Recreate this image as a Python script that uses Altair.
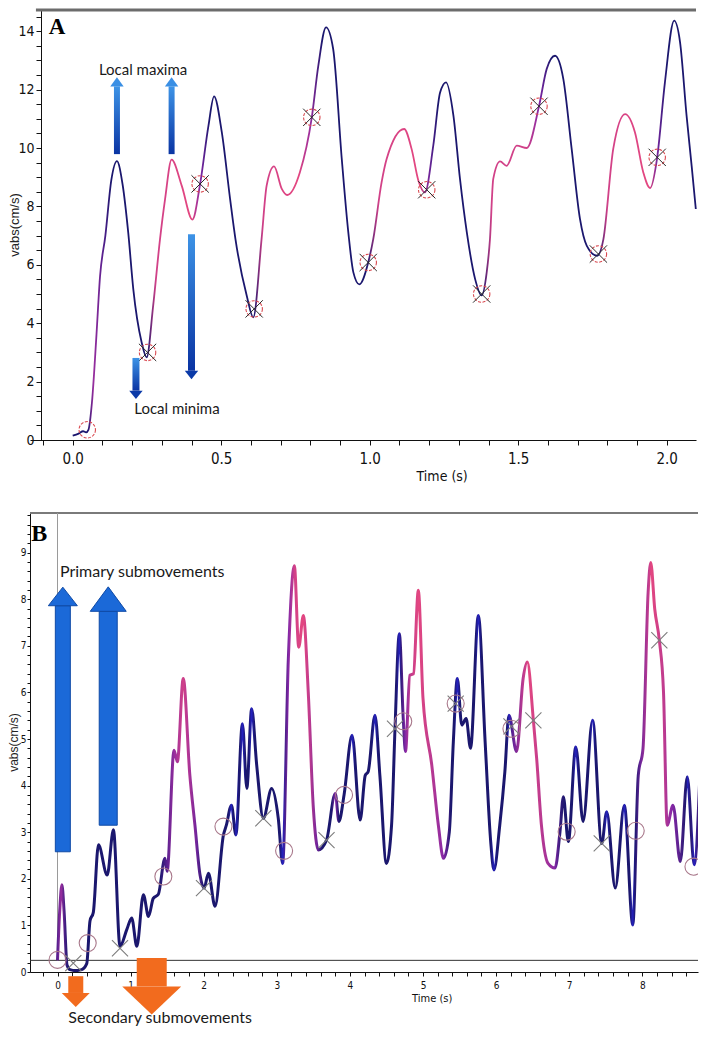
import altair as alt
import pandas as pd

# ------------------------------------------------------------------ Panel A data
a_time = [0.000, 0.020, 0.035, 0.045, 0.053, 0.065, 0.080, 0.092, 0.110, 0.130, 0.149, 0.168,
          0.187, 0.204, 0.232, 0.249, 0.271, 0.294, 0.311, 0.333, 0.367, 0.403, 0.429, 0.457,
          0.476, 0.502, 0.530, 0.548, 0.586, 0.608, 0.636, 0.653, 0.678, 0.704, 0.722, 0.765,
          0.805, 0.827, 0.853, 0.877, 0.906, 0.928, 0.945, 0.965, 0.995, 1.012, 1.040, 1.057,
          1.116, 1.141, 1.164, 1.186, 1.214, 1.237, 1.257, 1.282, 1.304, 1.327, 1.355, 1.377,
          1.394, 1.405, 1.416, 1.439, 1.461, 1.495, 1.529, 1.570, 1.596, 1.624, 1.652, 1.680,
          1.708, 1.731, 1.766, 1.787, 1.820, 1.860, 1.893, 1.921, 1.944, 1.968, 1.994, 2.025,
          2.045, 2.067, 2.084, 2.098]
a_vel = [0.15, 0.22, 0.30, 0.26, 0.35, 1.30, 3.60, 5.60, 7.00, 8.90, 9.55, 8.75,
         7.10, 5.17, 3.35, 2.83, 4.60, 6.88, 8.25, 9.60, 8.71, 7.55, 8.77, 10.76,
         11.77, 10.54, 8.25, 6.88, 4.94, 4.20, 6.88, 8.71, 9.37, 8.60, 8.39, 9.17,
         11.05, 12.82, 14.13, 13.39, 9.62, 7.11, 5.74, 5.33, 6.08, 6.88, 8.82, 9.62,
         10.65, 9.97, 8.88, 8.48, 10.08, 11.90, 12.25, 11.10, 8.94, 7.11, 5.51, 4.95,
         5.74, 6.88, 8.94, 9.54, 9.39, 10.08, 10.00, 11.43, 12.71, 13.16, 12.36, 9.97,
         7.57, 6.65, 6.31, 6.88, 9.97, 11.16, 10.54, 9.17, 8.63, 9.68, 12.25, 14.36,
         13.62, 11.10, 9.39, 7.91]
# colour key along time: 0 = navy, 0.5 = purple, 1 = pink
a_col_t = [0.00, 0.05, 0.07, 0.10, 0.13, 0.25, 0.28, 0.40, 0.43, 0.46, 0.61, 0.64, 0.76, 0.80,
           0.84, 0.99, 1.03, 1.17, 1.20, 1.23, 1.38, 1.41, 1.53, 1.57, 1.61, 1.77, 1.80, 1.94,
           1.97, 2.00, 2.098]
a_col_m = [0.0, 0.0, 0.6, 0.3, 0.0, 0.0, 0.9, 1.0, 0.5, 0.0, 0.0, 0.9, 1.0, 0.6,
           0.0, 0.0, 0.9, 1.0, 0.4, 0.0, 0.0, 0.9, 0.9, 0.5, 0.0, 0.0, 0.9, 1.0,
           0.4, 0.0, 0.0]
a_circle_t = [0.049, 0.252, 0.429, 0.611, 0.805, 0.995, 1.192, 1.377, 1.570, 1.770, 1.968]
a_circle_v = [0.35, 3.00, 8.77, 4.49, 11.05, 6.08, 8.57, 5.00, 11.43, 6.37, 9.68]
a_cross_t = [0.252, 0.429, 0.611, 0.805, 0.995, 1.192, 1.377, 1.570, 1.770, 1.968]
a_cross_v = [3.00, 8.77, 4.49, 11.05, 6.08, 8.57, 5.00, 11.43, 6.37, 9.68]
a_up_t = [0.149, 0.333]
a_up_from = [9.79, 9.79]
a_up_to = [12.11, 12.11]
a_dn_t = [0.213, 0.400]
a_dn_from = [2.81, 7.05]
a_dn_to = [1.69, 2.37]
a_labels = ["Local maxima", "Local minima"]
a_label_t = [0.237, 0.351]
a_label_v = [12.67, 1.06]
a_xticks = [round(-0.1 + 0.1 * i, 1) for i in range(22)]
a_yticks = [0.5 * i for i in range(30)]

# ------------------------------------------------------------------ Panel B data
b_time = [0.00, 0.03, 0.06, 0.09, 0.13, 0.17, 0.25, 0.33, 0.40, 0.445, 0.49, 0.56, 0.68, 0.765,
          0.855, 0.95, 1.015, 1.085, 1.175, 1.245, 1.31, 1.38, 1.47, 1.50, 1.594, 1.64, 1.72,
          1.81, 1.88, 1.95, 2.005, 2.065, 2.155, 2.27, 2.31, 2.38, 2.44, 2.53, 2.59, 2.656,
          2.725, 2.816, 2.93, 3.02, 3.08, 3.158, 3.24, 3.30, 3.363, 3.43, 3.50, 3.568, 3.68,
          3.80, 3.85, 3.92, 4.03, 4.14, 4.21, 4.25, 4.343, 4.41, 4.50, 4.57, 4.617, 4.676,
          4.73, 4.76, 4.82, 4.87, 4.936, 5.00, 5.12, 5.21, 5.28, 5.36, 5.415, 5.47, 5.53,
          5.59, 5.65, 5.757, 5.85, 5.926, 5.97, 6.05, 6.12, 6.176, 6.28, 6.37, 6.427, 6.51,
          6.555, 6.62, 6.71, 6.806, 6.874, 6.92, 6.988, 7.09, 7.19, 7.32, 7.445, 7.513, 7.63,
          7.754, 7.87, 7.945, 8.01, 8.08, 8.115, 8.17, 8.233, 8.29, 8.34, 8.42, 8.52, 8.615,
          8.71, 8.79]
b_vel = [0.25, 1.30, 1.87, 1.30, 0.15, 0.05, 0.03, 0.05, 0.18, 1.10, 1.28, 2.73, 2.08, 3.05,
         0.55, 0.92, 1.16, 0.55, 1.66, 1.19, 1.58, 1.67, 2.44, 2.16, 4.76, 4.51, 6.30,
         4.23, 3.15, 2.08, 1.80, 2.12, 1.41, 2.94, 3.15, 3.58, 2.94, 5.33, 3.94, 5.65,
         4.44, 3.30, 3.94, 3.30, 2.33, 6.72, 8.72, 6.97, 7.65, 6.01, 3.51, 2.62, 2.83,
         3.83, 3.23, 3.80, 5.08, 3.26, 4.22, 4.30, 5.51, 4.22, 2.33, 3.15, 5.22, 7.26,
         5.44, 4.73, 6.37, 6.40, 8.19, 5.87, 4.44, 3.15, 2.44, 3.01, 4.94, 6.30, 5.30,
         5.44, 4.80, 7.65, 4.94, 2.80, 2.19, 3.15, 4.30, 5.51, 4.73, 6.30, 6.65, 5.40,
         4.58, 3.15, 2.33, 2.23, 3.01, 3.76, 2.80, 4.83, 3.23, 5.40, 2.76, 3.44, 1.80,
         3.58, 1.01, 4.22, 4.80, 8.15, 8.79, 7.79, 7.12, 6.01, 3.15, 3.58, 2.37, 4.19,
         2.30, 4.30]
b_col_t = [0.00, 0.05, 0.10, 0.15, 1.40, 1.50, 1.60, 1.72, 1.80, 1.90, 2.00, 3.08, 3.16, 3.24,
           3.36, 3.45, 3.55, 3.62, 3.75, 3.80, 3.85, 4.62, 4.70, 4.76, 4.82, 4.94, 5.10, 5.28,
           5.38, 6.15, 6.25, 6.37, 6.45, 6.60, 6.80, 6.88, 6.95, 7.90, 7.98, 8.08, 8.12, 8.30,
           8.40, 8.50, 8.60, 8.79]
b_col_m = [0.3, 0.6, 0.2, 0.0, 0.0, 0.3, 0.6, 0.9, 0.7, 0.4, 0.0, 0.0, 0.5, 0.9,
           1.0, 0.8, 0.4, 0.0, 0.0, 0.5, 0.0, 0.0, 0.1, 0.5, 0.8, 1.0, 0.8, 0.5,
           0.0, 0.0, 0.4, 0.8, 1.0, 0.8, 0.5, 0.1, 0.0, 0.0, 0.4, 0.8, 1.0, 0.8,
           0.5, 0.3, 0.0, 0.2]
b_blue_t = [2.38, 2.44, 2.53, 2.656, 3.08, 4.03, 4.343, 4.676, 5.47, 5.757, 5.97, 6.176,
            7.09, 7.32, 7.513, 7.754, 7.87, 8.615, 8.71]
b_circle_t = [0.00, 0.413, 1.448, 2.27, 3.10, 3.92, 4.73, 5.447, 6.21, 6.965, 7.91, 8.70]
b_circle_v = [0.26, 0.62, 2.05, 3.12, 2.60, 3.80, 5.38, 5.76, 5.22, 3.01, 3.03, 2.26]
b_cross_t = [0.216, 0.855, 2.004, 2.816, 3.68, 4.617, 5.447, 6.21, 6.51, 7.445, 8.233]
b_cross_v = [0.19, 0.51, 1.80, 3.30, 2.83, 5.22, 5.76, 5.27, 5.40, 2.76, 7.12]
b_thresh = 0.25
b_primary_t = [0.073, 0.694]
b_primary_from = [2.58, 3.15]
b_primary_to = [7.86, 7.74]
b_second_t = [0.25, 1.289]
b_second_from = [-0.09, 0.30]
b_second_to = [-0.45, -0.31]
b_labels = ["Primary submovements", "Secondary submovements"]
b_label_t = [0.034, 0.148]
b_label_v = [8.59, -0.98]
b_xticks = [round(-0.2 + 0.2 * i, 1) for i in range(46)]
b_yticks = [round(0.2 * i, 1) for i in range(50)]

# ------------------------------------------------------------------ layout / style
X0 = 30
ANCHOR = -22
A_AXIS = 41
A_ZERO_X, A_PX_S = 72.7, 297.0
A_PX_V = 29.2
A_W, A_H = 696 - X0, 430
B_ZERO_X, B_PX_S = 57.5, 73.1
B_W, B_H = 668, 459
SPACING = 73
a_x0 = (X0 - A_ZERO_X) / A_PX_S
a_x1 = a_x0 + A_W / A_PX_S
a_y1 = A_H / A_PX_V
b_x0 = (X0 - B_ZERO_X) / B_PX_S
b_x1 = b_x0 + B_W / B_PX_S
b_y1 = 9.85

NARROW = "Liberation Sans Narrow, Arial Narrow, DejaVu Sans Condensed, sans-serif"
SANS = "Liberation Sans, Arial, sans-serif"
LABEL_FONT = "Lato, Open Sans, sans-serif"
SERIF = "Liberation Serif, DejaVu Serif, serif"

NAVY = (0x1b, 0x17, 0x6e)
PURPLE = (0x86, 0x28, 0xa6)
PINK = (0xe4, 0x47, 0x80)
BLUE = (0x26, 0x22, 0xc8)


def lerp(a, b, f):
    return tuple(a[i] + (b[i] - a[i]) * f for i in range(3))


def mix_rgb(m):
    if m <= 0.5:
        return lerp(NAVY, PURPLE, m * 2)
    return lerp(PURPLE, PINK, (m - 0.5) * 2)


def hexc(c):
    return "#%02x%02x%02x" % tuple(int(round(v)) for v in c)


def m_at(t, ct, cm):
    if t <= ct[0]:
        return cm[0]
    for i in range(1, len(ct)):
        if t <= ct[i]:
            f = (t - ct[i - 1]) / (ct[i] - ct[i - 1])
            return cm[i - 1] + (cm[i] - cm[i - 1]) * f
    return cm[-1]


def grad_stops(ct, cm, t0, t1, blue=(), half=0.04):
    times = set(ct)
    for b in blue:
        times.update([b - half, b, b + half])
    out = []
    for t in sorted(times):
        if t < t0 or t > t1:
            continue
        c = mix_rgb(m_at(t, ct, cm))
        for b in blue:
            if abs(t - b) < 1e-9:
                c = lerp(c, BLUE, 0.9)
        out.append(alt.GradientStop(offset=(t - t0) / (t1 - t0), color=hexc(c)))
    return out


def xaxis(values, expr, title, title_x, lsize, tsize, lpad, tpad, tick):
    return alt.Axis(values=values, labelExpr=expr, title=title, titleX=title_x,
                    titleFont=NARROW, titleFontSize=tsize, titleFontWeight="normal",
                    titleColor="#111", labelFont=NARROW, labelFontSize=lsize,
                    labelColor="#111", labelPadding=lpad, titlePadding=tpad,
                    tickSize=tick, tickColor="#111", domainColor="#111",
                    labelOverlap=False, labelFlush=False, grid=False)


def yaxis(values, expr, lsize, lpad, tick, offset=0):
    return alt.Axis(values=values, labelExpr=expr, title=None,
                    labelFont=NARROW, labelFontSize=lsize,
                    labelColor="#111", labelPadding=lpad,
                    tickSize=tick, tickColor="#111", domainColor="#111",
                    labelOverlap=False, labelFlush=False, grid=False, offset=offset)


SXA = alt.Scale(domain=[a_x0, a_x1], nice=False, zero=False, padding=0)
SYA = alt.Scale(domain=[0, a_y1], nice=False, zero=False, padding=0)
AXA = xaxis(a_xticks,
            "abs(datum.value*2 - round(datum.value*2)) < 0.001 ? format(datum.value, '.1f') : ''",
            "Time (s)", 441.7 - X0, 15, 14, 6, 3, 5)
AYA = yaxis(a_yticks,
            "abs(datum.value/2 - round(datum.value/2)) < 0.001 ? format(datum.value, 'd') : ''",
            14, 2, 5, offset=-(A_AXIS - X0))
SXB = alt.Scale(domain=[b_x0, b_x1], nice=False, zero=False, padding=0)
SYB = alt.Scale(domain=[0, b_y1], nice=False, zero=False, padding=0)
AXB = xaxis(b_xticks,
            "abs(datum.value - round(datum.value)) < 0.001 ? format(datum.value, 'd') : ''",
            "Time (s)", 431.7 - X0, 10, 11, 4, 2, 4)
AYB = yaxis(b_yticks,
            "abs(datum.value - round(datum.value)) < 0.001 ? format(datum.value, 'd') : ''",
            10, 1, 3)

XA = alt.X("t:Q", scale=SXA, axis=AXA)
YA = alt.Y("v:Q", scale=SYA, axis=AYA)
YA2 = alt.Y("v2:Q", scale=SYA, axis=AYA)
XB = alt.X("t:Q", scale=SXB, axis=AXB)
YB = alt.Y("v:Q", scale=SYB, axis=AYB)
YB2 = alt.Y("v2:Q", scale=SYB, axis=AYB)

CROSS = "M-1,-1L1,1M-1,1L1,-1"


def head_path(h, up=True):
    return "M-1,0L1,0L0,%sZ" % (("-%.3f" % h) if up else ("%.3f" % h))


def ytitle(x_px, h_px, size):
    return alt.Chart(pd.DataFrame({"s": ["vabs(cm/s)"]})).mark_text(
        font=SANS, fontSize=size, angle=270, color="#222", align="center", baseline="middle"
    ).encode(x=alt.value(x_px), y=alt.value(h_px / 2), text="s:N")


def anchor(h_px):
    return alt.Chart(pd.DataFrame({"s": [0]})).mark_rule(strokeOpacity=0, strokeWidth=0.01).encode(
        x=alt.value(ANCHOR), y=alt.value(h_px / 2), y2=alt.value(h_px / 2 + 1))


# ------------------------------------------------------------------ Panel A
dfA = pd.DataFrame({"t": a_time, "v": a_vel})
lineA = alt.Chart(dfA).mark_line(
    interpolate="monotone", strokeWidth=1.8,
    stroke=alt.Gradient(gradient="linear", stops=grad_stops(a_col_t, a_col_m, a_time[0], a_time[-1]),
                        x1=0, x2=1, y1=0, y2=0)
).encode(x=XA, y=YA)

circA = alt.Chart(pd.DataFrame({"t": a_circle_t, "v": a_circle_v})).mark_point(
    shape="circle", filled=False, size=270, stroke="#d9484f", strokeWidth=1.1, opacity=1,
    strokeDash=[3, 1.5]).encode(x=XA, y=YA)
crossA = alt.Chart(pd.DataFrame({"t": a_cross_t, "v": a_cross_v})).mark_point(
    shape=CROSS, filled=False, size=300, stroke="#2a2a2a", strokeWidth=1, opacity=1
).encode(x=XA, y=YA)

blue_grad = alt.Gradient(gradient="linear", x1=0, x2=0, y1=0, y2=1,
                         stops=[alt.GradientStop(offset=0, color="#3d93e6"),
                                alt.GradientStop(offset=1, color="#0a34a3")])
upA = pd.DataFrame({"t": a_up_t, "v": a_up_from, "v2": a_up_to})
dnA = pd.DataFrame({"t": a_dn_t, "v": a_dn_from, "v2": a_dn_to})
up_shaft = alt.Chart(upA).mark_bar(size=6, fill=blue_grad).encode(x=XA, y=YA, y2="v2:Q")
dn_shaft = alt.Chart(dnA).mark_bar(size=7, fill=blue_grad).encode(x=XA, y=YA, y2="v2:Q")
up_head = alt.Chart(upA).mark_point(shape=head_path(1.35, True), filled=True, size=180,
                                    fill="#3a8fe4", strokeWidth=0, opacity=1).encode(x=XA, y=YA2)
dn_head = alt.Chart(dnA).mark_point(shape=head_path(1.25, False), filled=True, size=180,
                                    fill="#0b3aa8", strokeWidth=0, opacity=1).encode(x=XA, y=YA2)

textA = alt.Chart(pd.DataFrame({"t": a_label_t, "v": a_label_v, "s": a_labels})).mark_text(
    font=LABEL_FONT, fontSize=15, color="#1a1a1a", align="center", baseline="middle"
).encode(x=XA, y=YA, text="s:N")
tagA = alt.Chart(pd.DataFrame({"t": [-0.053], "v": [14.14], "s": ["A"]})).mark_text(
    font=SERIF, fontSize=23, fontWeight="bold", color="#000", align="center", baseline="middle"
).encode(x=XA, y=YA, text="s:N")
borderA = alt.Chart(pd.DataFrame({"t": [a_x0 + 0.02], "t2": [a_x1], "v": [a_y1]})).mark_rule(
    color="#6c6c6c", strokeWidth=3).encode(x=XA, x2="t2:Q", y=YA)

panelA = alt.layer(anchor(A_H), borderA, lineA, circA, crossA, up_shaft, dn_shaft, up_head,
                   dn_head, textA, tagA, ytitle(-15, A_H, 13)).properties(width=A_W, height=A_H)

# ------------------------------------------------------------------ Panel B
dfB = pd.DataFrame({"t": b_time, "v": b_vel})
lineB = alt.Chart(dfB).mark_line(
    interpolate="monotone", strokeWidth=3, strokeJoin="round", clip=True,
    stroke=alt.Gradient(gradient="linear",
                        stops=grad_stops(b_col_t, b_col_m, b_time[0], b_time[-1], b_blue_t),
                        x1=0, x2=1, y1=0, y2=0)
).encode(x=XB, y=YB)
circB = alt.Chart(pd.DataFrame({"t": b_circle_t, "v": b_circle_v})).mark_point(
    shape="circle", filled=False, size=290, stroke="#a8778a", strokeWidth=1.1, opacity=1, clip=True
).encode(x=XB, y=YB)
crossB = alt.Chart(pd.DataFrame({"t": b_cross_t, "v": b_cross_v})).mark_point(
    shape=CROSS, filled=False, size=260, stroke="#7c7c7c", strokeWidth=1.1, opacity=1
).encode(x=XB, y=YB)
threshB = alt.Chart(pd.DataFrame({"t": [b_x0], "t2": [b_x1], "v": [b_thresh]})).mark_rule(
    color="#333", strokeWidth=1).encode(x=XB, x2="t2:Q", y=YB)
vlineB = alt.Chart(pd.DataFrame({"t": [0.0], "v": [b_thresh], "v2": [b_y1]})).mark_rule(
    color="#9a9a9a", strokeWidth=1).encode(x=XB, y=YB, y2="v2:Q")
borderB = alt.Chart(pd.DataFrame({"t": [b_x0], "t2": [b_x1], "v": [b_y1]})).mark_rule(
    color="#7a7a7a", strokeWidth=2).encode(x=XB, x2="t2:Q", y=YB)

prim_style = [(15, 841, 1.28), (18, 1296, 1.36)]
sec_style = [(15, 784, 1.0), (30, 3481, 0.95)]
arrowsB = []
for i in range(2):
    d = pd.DataFrame({"t": [b_primary_t[i]], "v": [b_primary_from[i]], "v2": [b_primary_to[i]]})
    w, s, h = prim_style[i]
    arrowsB.append(alt.Chart(d).mark_bar(size=w, fill="#1b69d8", stroke="#0f4aa6", strokeWidth=1)
                   .encode(x=XB, y=YB, y2="v2:Q"))
    arrowsB.append(alt.Chart(d).mark_point(shape=head_path(h, True), filled=True, size=s,
                                           fill="#1b69d8", stroke="#0f4aa6", strokeWidth=1, opacity=1)
                   .encode(x=XB, y=YB2))
for i in range(2):
    d = pd.DataFrame({"t": [b_second_t[i]], "v": [b_second_from[i]], "v2": [b_second_to[i]]})
    w, s, h = sec_style[i]
    arrowsB.append(alt.Chart(d).mark_bar(size=w, fill="#f26b1e").encode(x=XB, y=YB, y2="v2:Q"))
    arrowsB.append(alt.Chart(d).mark_point(shape=head_path(h, False), filled=True, size=s,
                                           fill="#f26b1e", strokeWidth=0, opacity=1)
                   .encode(x=XB, y=YB2))

textB = alt.Chart(pd.DataFrame({"t": b_label_t, "v": b_label_v, "s": b_labels})).mark_text(
    font=LABEL_FONT, fontSize=16, color="#1a1a1a", align="left", baseline="middle"
).encode(x=XB, y=YB, text="s:N")
tagB = alt.Chart(pd.DataFrame({"t": [-0.249], "v": [9.40], "s": ["B"]})).mark_text(
    font=SERIF, fontSize=24, fontWeight="bold", color="#000", align="center", baseline="middle"
).encode(x=XB, y=YB, text="s:N")

panelB = alt.layer(anchor(B_H), borderB, threshB, vlineB, *arrowsB, lineB, circB, crossB,
                   textB, tagB, ytitle(-16, B_H, 12)).properties(width=B_W, height=B_H)

chart = alt.vconcat(panelA, panelB, spacing=SPACING, bounds="flush").properties(
    padding={"left": 0, "right": 0, "top": 0, "bottom": 0}
).configure(background="white", padding={"left": 0, "right": 0, "top": 0, "bottom": 0}
            ).configure_view(stroke=None)

chart.save("out.html", embed_options={"renderer": "svg", "actions": False})
